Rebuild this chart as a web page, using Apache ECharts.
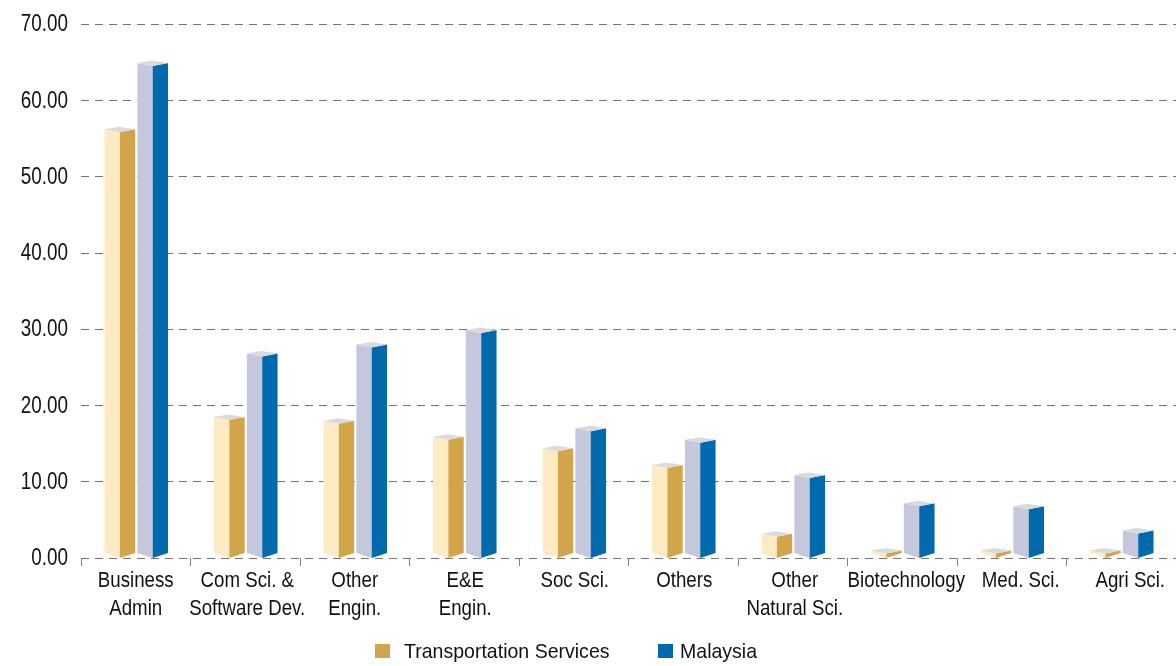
<!DOCTYPE html>
<html>
<head>
<meta charset="utf-8">
<script src="https://cdn.jsdelivr.net/npm/echarts@6/dist/echarts.min.js"></script>
<style>
  html, body { margin: 0; padding: 0; background: #fff; }
  #chart { width: 1176px; height: 666px; }
</style>
</head>
<body>
<div id="chart"></div>
<script>
// Categories along the x axis
const categories = [
  'Business\nAdmin', 'Com Sci. &\nSoftware Dev.', 'Other\nEngin.', 'E&E\nEngin.',
  'Soc Sci.', 'Others', 'Other\nNatural Sci.', 'Biotechnology', 'Med. Sci.', 'Agri Sci.'
];
// Series names and values
const seriesNames = ['Transportation Services', 'Malaysia'];
const transportValues = [55.8, 18.1, 17.6, 15.5, 14.0, 11.8, 2.8, 0.6, 0.6, 0.6];
const malaysiaValues  = [64.5, 26.4, 27.6, 29.5, 16.6, 15.1, 10.5, 6.8, 6.4, 3.2];
// Value-axis ticks
const yTicks = [0, 10, 20, 30, 40, 50, 60, 70];

const FAMILY = "'Liberation Sans', Arial, Helvetica, sans-serif";
const TEXT_COLOR = '#111';
const GOLD = '#D3A54A', GOLD_LIGHT = '#FEEAC3';
const BLUE = '#016AAC', BLUE_LIGHT = '#C5C8DC';
// Horizontal squeeze that gives the labels their narrow face
const NARROW_Y = 0.82;
const NARROW_X = 0.85;
// Small horizontal nudges (px) for the category labels
const LABEL_NUDGE = [0, 2, 0, 1, 1, 1, 2, 4, 9, 9];

// Draws one prism-style bar: light left face, dark right face, grey top cap.
function prismRenderer(offsetFrac, lightColor, darkColor) {
  return function (params, api) {
    const idx = api.value(0);
    const val = api.value(1);
    const band = api.size([1, 0])[0];
    const top = api.coord([idx, val]);
    const base = api.coord([idx, 0]);
    const cx = top[0] + band * offsetFrac;
    const hw = band * 0.14;
    const xl = cx - hw, xr = cx + hw;
    const yv = top[1], y0 = base[1];
    const side = 3, back = 5.5, foot = 5;
    return {
      type: 'group',
      children: [
        { type: 'polygon', shape: { points: [[xl, yv - side], [cx, yv], [cx, y0], [xl, y0 - foot]] },
          style: { fill: lightColor } },
        { type: 'polygon', shape: { points: [[cx, yv], [xr, yv - side], [xr, y0 - foot], [cx, y0]] },
          style: { fill: darkColor } },
        { type: 'polygon', shape: { points: [[xl, yv - side], [cx - 1, yv - back], [xr, yv - side], [cx, yv]] },
          style: { fill: '#dadada' } }
      ]
    };
  };
}

const chart = echarts.init(document.getElementById('chart'), null, { renderer: 'canvas' });

chart.setOption({
  animation: false,
  backgroundColor: '#ffffff',
  grid: { left: 81, right: -5, top: 24, bottom: 108, containLabel: false },
  xAxis: {
    type: 'category',
    data: categories,
    axisLine: { show: false },
    axisTick: { show: true, length: 8, lineStyle: { color: '#808080' } },
    axisLabel: { show: false },
    splitLine: { show: false }
  },
  yAxis: {
    type: 'value',
    min: yTicks[0], max: yTicks[yTicks.length - 1], interval: 10,
    axisLine: { show: false },
    axisTick: { show: false },
    axisLabel: { show: false },
    splitLine: { show: true, lineStyle: { color: '#747474', type: [8, 6], width: 1 } }
  },
  series: [
    {
      name: seriesNames[0],
      type: 'custom',
      itemStyle: { color: GOLD },
      encode: { x: 0, y: 1 },
      data: transportValues.map((v, i) => [i, v]),
      renderItem: prismRenderer(-0.145, GOLD_LIGHT, GOLD)
    },
    {
      name: seriesNames[1],
      type: 'custom',
      itemStyle: { color: BLUE },
      encode: { x: 0, y: 1 },
      data: malaysiaValues.map((v, i) => [i, v]),
      renderItem: prismRenderer(0.155, BLUE_LIGHT, BLUE)
    }
  ]
});

// Axis labels and legend as narrow text, placed through the chart's own scales.
const graphics = [];
const xPix = i => chart.convertToPixel({ xAxisIndex: 0 }, i);
const yPix = v => chart.convertToPixel({ yAxisIndex: 0 }, v);
const gridLeft = xPix(0) - (xPix(1) - xPix(0)) / 2;
const baseY = yPix(0);

yTicks.forEach(v => {
  graphics.push({
    type: 'text',
    x: gridLeft - 13,
    y: yPix(v) + 1,
    scaleX: NARROW_Y,
    style: {
      text: v.toFixed(2), fontFamily: FAMILY, fontSize: 23, fill: TEXT_COLOR,
      align: 'right', verticalAlign: 'middle'
    }
  });
});

categories.forEach((c, i) => {
  graphics.push({
    type: 'text',
    x: xPix(i) + LABEL_NUDGE[i],
    y: baseY + 9,
    scaleX: NARROW_X,
    style: {
      text: c, fontFamily: FAMILY, fontSize: 22, lineHeight: 28, fill: TEXT_COLOR,
      align: 'center', verticalAlign: 'top'
    }
  });
});

// Legend
const legendItems = [
  { name: seriesNames[0], color: GOLD, x: 375, textGap: 29 },
  { name: seriesNames[1], color: BLUE, x: 658, textGap: 22 }
];
legendItems.forEach(item => {
  graphics.push({
    type: 'rect', x: item.x, y: 644,
    shape: { x: 0, y: 0, width: 15, height: 14 },
    style: { fill: item.color }
  });
  graphics.push({
    type: 'text', x: item.x + item.textGap, y: 652, scaleX: 0.93,
    style: {
      text: item.name, fontFamily: FAMILY, fontSize: 21, fill: TEXT_COLOR,
      align: 'left', verticalAlign: 'middle'
    }
  });
});

chart.setOption({ graphic: graphics });
</script>
</body>
</html>
